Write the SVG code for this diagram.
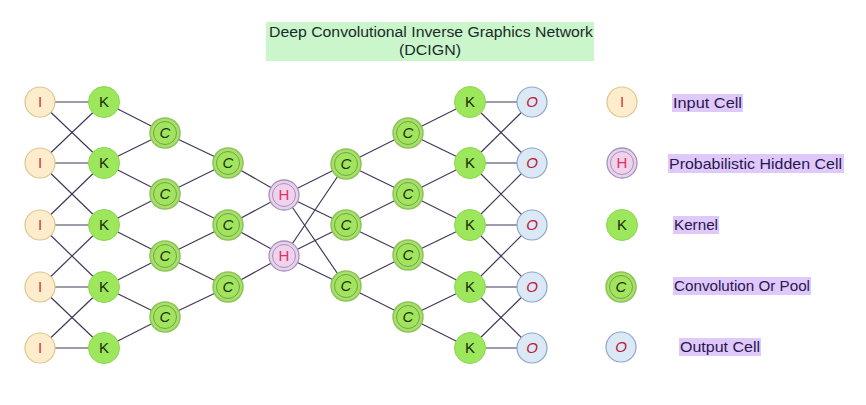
<svg xmlns="http://www.w3.org/2000/svg" width="866" height="405" viewBox="0 0 866 405">
<style>
text{font-family:"Liberation Sans","DejaVu Sans",sans-serif;}
.e line{stroke:#3f3858;stroke-width:1.2;}
.ni{fill:#fdedcc;stroke:#dcc68e;stroke-width:1.2;}
.ti{fill:#c8402a;font-size:15px;text-anchor:middle;}
.nk{fill:#9ce75c;stroke:#8bd84c;stroke-width:1;}
.tk{fill:#1a2a10;font-size:15px;text-anchor:middle;}
.nc{fill:#a8e068;stroke:#8cc45a;stroke-width:1.5;}
.nci{fill:#a2e45e;stroke:#6ea548;stroke-width:1;}
.tc{fill:#1a3010;font-size:15px;font-style:italic;text-anchor:middle;}
.nh{fill:#e6d4ec;stroke:#a890bc;stroke-width:1.3;}
.nhi{fill:#f0d2ec;stroke:#a890bc;stroke-width:1;}
.th{fill:#e0306a;font-size:15px;text-anchor:middle;}
.no{fill:#dbe9f7;stroke:#8fa6c4;stroke-width:1.2;}
.to{fill:#c0183a;font-size:15px;font-style:italic;text-anchor:middle;}
.lb{fill:#dfc9fa;}
.lt{fill:#2a1650;font-size:15px;}
.tt{fill:#1a2a2a;font-size:14px;text-anchor:middle;}
</style>
<rect width="866" height="405" fill="#ffffff"/>
<g id="title">
<rect x="266" y="22" width="328" height="39" fill="#cbf6cb"/>
<text class="tt" x="431" y="37" textLength="324" lengthAdjust="spacingAndGlyphs">Deep Convolutional Inverse Graphics Network</text>
<text class="tt" x="430" y="55" textLength="62" lengthAdjust="spacingAndGlyphs">(DCIGN)</text>
</g>
<g id="connectors" class="e">
<!-- I to K -->
<line x1="40" y1="102" x2="104" y2="102"/><line x1="40" y1="102" x2="104" y2="163"/>
<line x1="40" y1="163" x2="104" y2="102"/><line x1="40" y1="163" x2="104" y2="163"/><line x1="40" y1="163" x2="104" y2="225"/>
<line x1="40" y1="225" x2="104" y2="163"/><line x1="40" y1="225" x2="104" y2="225"/><line x1="40" y1="225" x2="104" y2="287"/>
<line x1="40" y1="287" x2="104" y2="225"/><line x1="40" y1="287" x2="104" y2="287"/><line x1="40" y1="287" x2="104" y2="348"/>
<line x1="40" y1="348" x2="104" y2="287"/><line x1="40" y1="348" x2="104" y2="348"/>
<!-- K to C1 -->
<line x1="104" y1="102" x2="165" y2="133"/>
<line x1="104" y1="163" x2="165" y2="133"/><line x1="104" y1="163" x2="165" y2="194"/>
<line x1="104" y1="225" x2="165" y2="194"/><line x1="104" y1="225" x2="165" y2="256"/>
<line x1="104" y1="287" x2="165" y2="256"/><line x1="104" y1="287" x2="165" y2="317"/>
<line x1="104" y1="348" x2="165" y2="317"/>
<!-- C1 to C2 -->
<line x1="165" y1="133" x2="228" y2="163"/>
<line x1="165" y1="194" x2="228" y2="163"/><line x1="165" y1="194" x2="228" y2="225"/>
<line x1="165" y1="256" x2="228" y2="225"/><line x1="165" y1="256" x2="228" y2="287"/>
<line x1="165" y1="317" x2="228" y2="287"/>
<!-- C2 to H -->
<line x1="228" y1="163" x2="284" y2="195"/>
<line x1="228" y1="225" x2="284" y2="195"/><line x1="228" y1="225" x2="284" y2="256"/>
<line x1="228" y1="287" x2="284" y2="256"/>
<!-- H to C2R -->
<line x1="284" y1="195" x2="346" y2="164"/><line x1="284" y1="195" x2="346" y2="225"/><line x1="284" y1="195" x2="346" y2="286"/>
<line x1="284" y1="256" x2="346" y2="164"/><line x1="284" y1="256" x2="346" y2="225"/><line x1="284" y1="256" x2="346" y2="286"/>
<!-- C2R to C1R -->
<line x1="346" y1="164" x2="408" y2="133"/><line x1="346" y1="164" x2="408" y2="194"/>
<line x1="346" y1="225" x2="408" y2="194"/><line x1="346" y1="225" x2="408" y2="255"/>
<line x1="346" y1="286" x2="408" y2="255"/><line x1="346" y1="286" x2="408" y2="317"/>
<!-- C1R to KR -->
<line x1="408" y1="133" x2="470" y2="102"/><line x1="408" y1="133" x2="470" y2="163"/>
<line x1="408" y1="194" x2="470" y2="163"/><line x1="408" y1="194" x2="470" y2="225"/>
<line x1="408" y1="255" x2="470" y2="225"/><line x1="408" y1="255" x2="470" y2="287"/>
<line x1="408" y1="317" x2="470" y2="287"/><line x1="408" y1="317" x2="470" y2="348"/>
<!-- KR to O -->
<line x1="470" y1="102" x2="532" y2="102"/><line x1="470" y1="102" x2="532" y2="163"/>
<line x1="470" y1="163" x2="532" y2="102"/><line x1="470" y1="163" x2="532" y2="163"/><line x1="470" y1="163" x2="532" y2="225"/>
<line x1="470" y1="225" x2="532" y2="163"/><line x1="470" y1="225" x2="532" y2="225"/><line x1="470" y1="225" x2="532" y2="287"/>
<line x1="470" y1="287" x2="532" y2="225"/><line x1="470" y1="287" x2="532" y2="287"/><line x1="470" y1="287" x2="532" y2="348"/>
<line x1="470" y1="348" x2="532" y2="287"/><line x1="470" y1="348" x2="532" y2="348"/>
</g>
<!-- Input cells -->
<g id="i1"><circle class="ni" cx="40" cy="102" r="15"/><text class="ti" x="40" y="107">I</text></g>
<g id="i2"><circle class="ni" cx="40" cy="163" r="15"/><text class="ti" x="40" y="168">I</text></g>
<g id="i3"><circle class="ni" cx="40" cy="225" r="15"/><text class="ti" x="40" y="230">I</text></g>
<g id="i4"><circle class="ni" cx="40" cy="287" r="15"/><text class="ti" x="40" y="292">I</text></g>
<g id="i5"><circle class="ni" cx="40" cy="348" r="15"/><text class="ti" x="40" y="353">I</text></g>
<!-- Kernels left -->
<g id="k1"><circle class="nk" cx="104" cy="102" r="15.5"/><text class="tk" x="104" y="107">K</text></g>
<g id="k2"><circle class="nk" cx="104" cy="163" r="15.5"/><text class="tk" x="104" y="168">K</text></g>
<g id="k3"><circle class="nk" cx="104" cy="225" r="15.5"/><text class="tk" x="104" y="230">K</text></g>
<g id="k4"><circle class="nk" cx="104" cy="287" r="15.5"/><text class="tk" x="104" y="292">K</text></g>
<g id="k5"><circle class="nk" cx="104" cy="348" r="15.5"/><text class="tk" x="104" y="353">K</text></g>
<!-- Conv left 1 -->
<g id="c1a"><circle class="nc" cx="165" cy="133" r="15"/><circle class="nci" cx="165" cy="133" r="11.5"/><text class="tc" x="165" y="138">C</text></g>
<g id="c1b"><circle class="nc" cx="165" cy="194" r="15"/><circle class="nci" cx="165" cy="194" r="11.5"/><text class="tc" x="165" y="199">C</text></g>
<g id="c1c"><circle class="nc" cx="165" cy="256" r="15"/><circle class="nci" cx="165" cy="256" r="11.5"/><text class="tc" x="165" y="261">C</text></g>
<g id="c1d"><circle class="nc" cx="165" cy="317" r="15"/><circle class="nci" cx="165" cy="317" r="11.5"/><text class="tc" x="165" y="322">C</text></g>
<!-- Conv left 2 -->
<g id="c2a"><circle class="nc" cx="228" cy="163" r="15"/><circle class="nci" cx="228" cy="163" r="11.5"/><text class="tc" x="228" y="168">C</text></g>
<g id="c2b"><circle class="nc" cx="228" cy="225" r="15"/><circle class="nci" cx="228" cy="225" r="11.5"/><text class="tc" x="228" y="230">C</text></g>
<g id="c2c"><circle class="nc" cx="228" cy="287" r="15"/><circle class="nci" cx="228" cy="287" r="11.5"/><text class="tc" x="228" y="292">C</text></g>
<!-- Hidden -->
<g id="h1"><circle class="nh" cx="284" cy="195" r="15"/><circle class="nhi" cx="284" cy="195" r="11.5"/><text class="th" x="284" y="200">H</text></g>
<g id="h2"><circle class="nh" cx="284" cy="256" r="15"/><circle class="nhi" cx="284" cy="256" r="11.5"/><text class="th" x="284" y="261">H</text></g>
<!-- Conv right 2 -->
<g id="c3a"><circle class="nc" cx="346" cy="164" r="15"/><circle class="nci" cx="346" cy="164" r="11.5"/><text class="tc" x="346" y="169">C</text></g>
<g id="c3b"><circle class="nc" cx="346" cy="225" r="15"/><circle class="nci" cx="346" cy="225" r="11.5"/><text class="tc" x="346" y="230">C</text></g>
<g id="c3c"><circle class="nc" cx="346" cy="286" r="15"/><circle class="nci" cx="346" cy="286" r="11.5"/><text class="tc" x="346" y="291">C</text></g>
<!-- Conv right 1 -->
<g id="c4a"><circle class="nc" cx="408" cy="133" r="15"/><circle class="nci" cx="408" cy="133" r="11.5"/><text class="tc" x="408" y="138">C</text></g>
<g id="c4b"><circle class="nc" cx="408" cy="194" r="15"/><circle class="nci" cx="408" cy="194" r="11.5"/><text class="tc" x="408" y="199">C</text></g>
<g id="c4c"><circle class="nc" cx="408" cy="255" r="15"/><circle class="nci" cx="408" cy="255" r="11.5"/><text class="tc" x="408" y="260">C</text></g>
<g id="c4d"><circle class="nc" cx="408" cy="317" r="15"/><circle class="nci" cx="408" cy="317" r="11.5"/><text class="tc" x="408" y="322">C</text></g>
<!-- Kernels right -->
<g id="k6"><circle class="nk" cx="470" cy="102" r="15.5"/><text class="tk" x="470" y="107">K</text></g>
<g id="k7"><circle class="nk" cx="470" cy="163" r="15.5"/><text class="tk" x="470" y="168">K</text></g>
<g id="k8"><circle class="nk" cx="470" cy="225" r="15.5"/><text class="tk" x="470" y="230">K</text></g>
<g id="k9"><circle class="nk" cx="470" cy="287" r="15.5"/><text class="tk" x="470" y="292">K</text></g>
<g id="k10"><circle class="nk" cx="470" cy="348" r="15.5"/><text class="tk" x="470" y="353">K</text></g>
<!-- Outputs -->
<g id="o1"><circle class="no" cx="532" cy="102" r="15"/><text class="to" x="532" y="107">O</text></g>
<g id="o2"><circle class="no" cx="532" cy="163" r="15"/><text class="to" x="532" y="168">O</text></g>
<g id="o3"><circle class="no" cx="532" cy="225" r="15"/><text class="to" x="532" y="230">O</text></g>
<g id="o4"><circle class="no" cx="532" cy="287" r="15"/><text class="to" x="532" y="292">O</text></g>
<g id="o5"><circle class="no" cx="532" cy="348" r="15"/><text class="to" x="532" y="353">O</text></g>
<!-- Legend -->
<g id="legend-input"><circle class="ni" cx="622" cy="102" r="15"/><text class="ti" x="622" y="107">I</text>
<rect class="lb" x="672" y="94" width="71" height="18"/><text class="lt" x="673" y="108" textLength="69" lengthAdjust="spacingAndGlyphs">Input Cell</text></g>
<g id="legend-hidden"><circle class="nh" cx="622" cy="163" r="15"/><circle class="nhi" cx="622" cy="163" r="11.5"/><text class="th" x="622" y="168">H</text>
<rect class="lb" x="668" y="154" width="176" height="19"/><text class="lt" x="669" y="169" textLength="173" lengthAdjust="spacingAndGlyphs">Probabilistic Hidden Cell</text></g>
<g id="legend-kernel"><circle class="nk" cx="622" cy="225" r="15.5"/><text class="tk" x="622" y="230">K</text>
<rect class="lb" x="673" y="216" width="46" height="18"/><text class="lt" x="674" y="230" textLength="44" lengthAdjust="spacingAndGlyphs">Kernel</text></g>
<g id="legend-conv"><circle class="nc" cx="621" cy="287" r="15"/><circle class="nci" cx="621" cy="287" r="11.5"/><text class="tc" x="621" y="292">C</text>
<rect class="lb" x="673" y="277" width="138" height="18"/><text class="lt" x="674" y="291" textLength="136" lengthAdjust="spacingAndGlyphs">Convolution Or Pool</text></g>
<g id="legend-output"><circle class="no" cx="621" cy="347" r="15"/><text class="to" x="621" y="352">O</text>
<rect class="lb" x="679" y="338" width="82" height="18"/><text class="lt" x="680" y="352" textLength="80" lengthAdjust="spacingAndGlyphs">Output Cell</text></g>
</svg>
